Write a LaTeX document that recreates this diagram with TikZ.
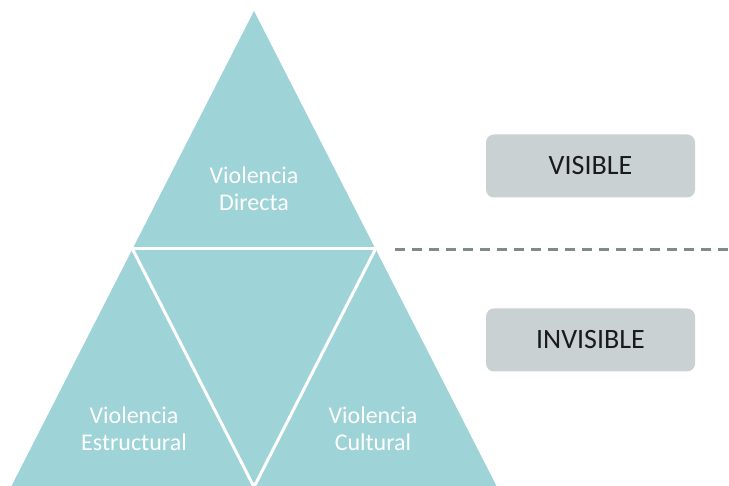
\documentclass[tikz,border=0pt]{standalone}
\usepackage{fontspec}
\setmainfont{Carlito}
\usetikzlibrary{calc}
\definecolor{tealfill}{HTML}{9ED3D8}
\definecolor{boxfill}{HTML}{C9D1D3}
\definecolor{dashgray}{HTML}{7F8A8C}
\definecolor{boxtext}{HTML}{1A1A1A}
\tikzset{
  tritext/.style={text=white, align=center, font=\fontsize{24}{27}\selectfont, inner sep=0pt},
  labelbox/.style={draw=none, fill=boxfill, rounded corners=8pt, minimum width=209pt, minimum height=63pt, text=boxtext, font=\fontsize{28}{30}\selectfont, inner sep=0pt},
  gapline/.style={white, line width=3pt},
  divider/.style={dashgray, line width=2.5pt, dash pattern=on 10pt off 7pt}
}
\begin{document}
\begin{tikzpicture}[x=1pt,y=-1pt]
\useasboundingbox (0,0) rectangle (729,486);
\coordinate (A) at (254,11);
\coordinate (L) at (11,487);
\coordinate (R) at (497,487);
\coordinate (ML) at ($(A)!0.5!(L)$);
\coordinate (MR) at ($(A)!0.5!(R)$);
\coordinate (MB) at ($(L)!0.5!(R)$);
\fill[tealfill] (A) -- (L) -- (R) -- cycle;
\begin{scope}
\clip (A) -- (L) -- (R) -- cycle;
\draw[gapline] ($(ML)!-0.05!(MR)$) -- ($(MR)!-0.05!(ML)$);
\draw[gapline] ($(ML)!-0.05!(MB)$) -- ($(MB)!-0.05!(ML)$);
\draw[gapline] ($(MR)!-0.05!(MB)$) -- ($(MB)!-0.05!(MR)$);
\end{scope}
\node[tritext] (dir) at (254,189) {Violencia\\Directa};
\node[tritext] (est) at (134,429) {Violencia\\Estructural};
\node[tritext] (cul) at (373,429) {Violencia\\Cultural};
\node[labelbox] (vis) at (590.5,166) {VISIBLE};
\node[labelbox] (invis) at (590.5,340) {INVISIBLE};
\coordinate (d1) at (395,249.5);
\coordinate (d2) at (729,249.5);
\draw[divider] (d1) -- (d2);
\end{tikzpicture}
\end{document}
